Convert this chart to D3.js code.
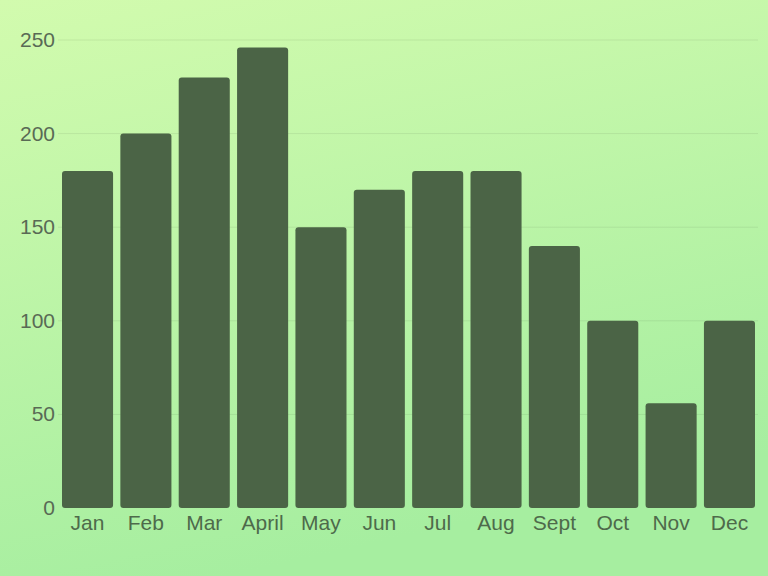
<!DOCTYPE html>
<html><head><meta charset="utf-8">
<script src="https://cdn.jsdelivr.net/npm/d3@7"></script>
<style>body{margin:0;}svg{display:block;}</style>
</head><body>
<svg id="c" width="768" height="576"></svg>
<script>
const categories = ["Jan","Feb","Mar","April","May","Jun","Jul","Aug","Sept","Oct","Nov","Dec"];
const values = [180,200,230,246,150,170,180,180,140,100,56,100];
const yTicks = [0,50,100,150,200,250];

const svg = d3.select("#c");
const defs = svg.append("defs");
const g = defs.append("linearGradient").attr("id","bg").attr("x1","0").attr("y1","0").attr("x2","0.3").attr("y2","1");
g.append("stop").attr("offset","0").attr("stop-color","#d2fbae");
g.append("stop").attr("offset","1").attr("stop-color","#a6eea0");
svg.append("rect").attr("width",768).attr("height",576).attr("fill","url(#bg)");

const x = d3.scaleBand().domain(categories).range([58.5,758.5]).paddingInner(0.125).paddingOuter(0.06);
const y = d3.scaleLinear().domain([0,250]).range([508,40]);

svg.append("g").selectAll("line").data(yTicks.slice(1)).join("line")
  .attr("x1",58).attr("x2",758).attr("y1",d=>y(d)).attr("y2",d=>y(d))
  .attr("stroke","#000").attr("stroke-opacity",0.07).attr("stroke-width",1);

svg.append("g").selectAll("rect").data(values).join("rect")
  .attr("x",(d,i)=>x(categories[i])).attr("width",x.bandwidth())
  .attr("y",d=>y(d)).attr("height",d=>y(0)-y(d))
  .attr("rx",3).attr("fill","#4b6446");

const font = "'Liberation Sans', Arial, sans-serif";
svg.append("g").selectAll("text").data(yTicks).join("text")
  .attr("x",55).attr("y",d=>y(d)+7).attr("text-anchor","end")
  .attr("font-family",font).attr("font-size",21).attr("fill","#596a55").text(d=>d);
svg.append("g").selectAll("text").data(categories).join("text")
  .attr("x",d=>x(d)+x.bandwidth()/2).attr("y",530).attr("text-anchor","middle")
  .attr("font-family",font).attr("font-size",21).attr("fill","#4e6a4b").text(d=>d);
</script>
</body></html>
